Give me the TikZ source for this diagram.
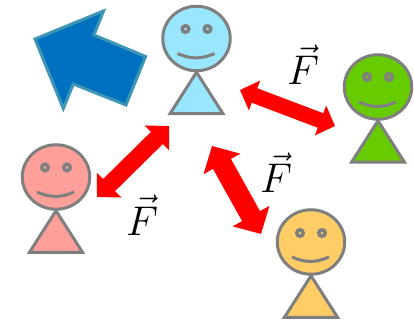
\documentclass[tikz,border=0pt]{standalone}
\usepackage{amsmath}
\usetikzlibrary{arrows.meta, shapes.geometric}
\definecolor{skin1}{HTML}{99E6FF}
\definecolor{skin2}{HTML}{66CC00}
\definecolor{skin3}{HTML}{FF9F99}
\definecolor{skin4}{HTML}{FFCC66}
\definecolor{linegray}{HTML}{7F7F7F}
\definecolor{bigblue}{HTML}{0070C0}
\definecolor{bigedge}{HTML}{3C96B4}

\begin{document}
\begin{tikzpicture}[x=1pt, y=-1pt,
  head/.style={draw=linegray, ellipse, line width=3pt, minimum width=67.5pt, minimum height=64.5pt, inner sep=0pt},
  eye/.style={draw=linegray, circle, line width=3.5pt, minimum size=6.5pt, inner sep=0pt},
  body/.style={draw=linegray, line width=3pt},
  mouth/.style={draw=linegray, line width=3pt, bend right=24},
  force/.style={red, line width=#1pt, {Triangle[length=#1pt,width=2*#1pt]}-{Triangle[length=#1pt,width=2*#1pt]}},
  lab/.style={anchor=base, inner sep=0pt, scale=2, font=\huge}]
  \useasboundingbox (0,0) rectangle (414,320);
  % big arrow
  \draw[fill=bigblue, draw=bigedge, line width=3pt] (35,39) -- (103.5,11) -- (94,35)
    -- (145.5,56.5) -- (126,105) -- (73.3,84) -- (63.3,108.5) -- cycle;
  % people
  \node[head, fill=skin1] (blue) at (196.5,38.5) {};
  \node[eye, fill=skin1] (blueL) at (185.5,29) {};
  \node[eye, fill=skin1] (blueR) at (207.5,29) {};
  \draw[mouth] ([shift={(-19,15)}]blue.center) to ([shift={(18,15)}]blue.center);
  \draw[body, fill=skin1] (blue.south) -- ++(26.5,41.5) -- ++(-53,0) -- cycle;

  \node[head, fill=skin2] (green) at (378,87) {};
  \node[eye, fill=skin2] (greenL) at (367,77) {};
  \node[eye, fill=skin2] (greenR) at (389,77) {};
  \draw[mouth] ([shift={(-19,15)}]green.center) to ([shift={(18,15)}]green.center);
  \draw[body, fill=skin2] (green.south) -- ++(26.5,41.5) -- ++(-53,0) -- cycle;

  \node[head, fill=skin3] (pink) at (56,177) {};
  \node[eye, fill=skin3] (pinkL) at (45,167.5) {};
  \node[eye, fill=skin3] (pinkR) at (67,167.5) {};
  \draw[mouth] ([shift={(-19,15)}]pink.center) to ([shift={(18,15)}]pink.center);
  \draw[body, fill=skin3] (pink.south) -- ++(26.5,41.5) -- ++(-53,0) -- cycle;

  \node[head, fill=skin4] (orange) at (311,242) {};
  \node[eye, fill=skin4] (orangeL) at (300,233) {};
  \node[eye, fill=skin4] (orangeR) at (322,233) {};
  \draw[mouth] ([shift={(-19,15)}]orange.center) to ([shift={(18,15)}]orange.center);
  \draw[body, fill=skin4] (orange.south) -- ++(26.5,41.5) -- ++(-53,0) -- cycle;

  % forces
  \coordinate (a1) at (240,90);
  \coordinate (b1) at (335,126);
  \coordinate (a2) at (169,126);
  \coordinate (b2) at (97,197);
  \coordinate (a3) at (212,146);
  \coordinate (b3) at (261,234);
  \draw[force=15.5] (a1) -- (b1);
  \draw[force=17] (a2) -- (b2);
  \draw[force=20.5] (a3) -- (b3);
  \node[lab] (f1) at (303,85) {$\vec{F}$};
  \node[lab] (f2) at (142,235) {$\vec{F}$};
  \node[lab] (f3) at (276,193) {$\vec{F}$};
\end{tikzpicture}
\end{document}
